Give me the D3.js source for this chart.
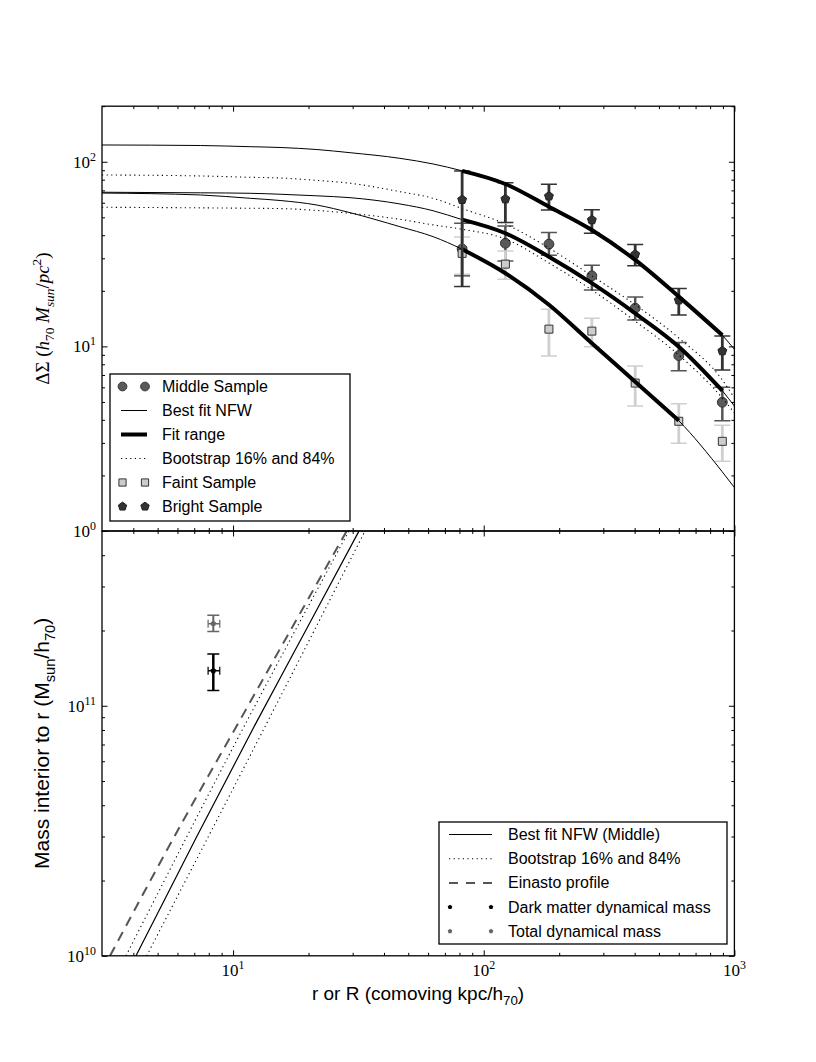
<!DOCTYPE html>
<html><head><meta charset="utf-8">
<script src="https://cdn.jsdelivr.net/npm/d3@7"></script>
<style>body{margin:0;background:#fff} svg{display:block}</style>
</head><body>
<svg id="c" width="816" height="1062"></svg>
<script>
// ---------------- data ----------------
const radii = [82, 122, 182, 270, 402, 600, 895];
const middleVal = [33.7, 36.2, 35.8, 24.1, 16.1, 8.91, 4.98];
const middleHi  = [46.5, 44.9, 41.4, 27.5, 18.5, 10.5, 6.0];
const middleLo  = [24.1, 29.0, 31.2, 20.2, 13.9, 7.39, 3.96];
const faintVal  = [31.9, 27.9, 12.4, 12.1, 6.33, 3.93, 3.06];
const faintHi   = [39.1, 32.9, 15.9, 14.2, 7.83, 4.89, 3.74];
const faintLo   = [24.6, 23.1, 8.87, 9.96, 4.75, 2.99, 2.39];
const brightVal = [62.3, 62.8, 65.1, 48.4, 31.5, 17.8, 9.44];
const brightHi  = [89.2, 77.0, 75.5, 55.0, 35.6, 20.6, 11.4];
const brightLo  = [21.1, 46.9, 54.8, 41.0, 27.3, 14.8, 7.45];

const curveR    = [3, 7.4, 11.7, 15.4, 21.6, 29.3, 46.3, 62.8, 82, 122, 182, 270, 402, 600, 895, 1000];
const brightNFW = [123.3, 122.5, 120.7, 119.5, 116.5, 112.0, 104.4, 97.3, 89.3, 75.8, 57.1, 42.7, 29.4, 18.6, 11.5, 9.64];
const middleNFW = [68.4, 67.9, 67.5, 66.7, 65.4, 63.9, 59.1, 54.3, 48.6, 41.0, 30.6, 22.0, 15.1, 9.96, 5.75, 4.75];
const faintNFW  = [67.7, 66.1, 63.4, 61.7, 58.3, 53.0, 44.5, 39.3, 33.6, 24.9, 16.8, 10.4, 6.44, 3.96, 2.09, 1.72];
const bootHi    = [84.8, 83.8, 82.4, 81.7, 79.3, 76.5, 68.9, 63.4, 55.8, 46.0, 34.1, 24.1, 16.8, 11.1, 6.58, 5.25];
const bootLo    = [56.7, 56.3, 56.0, 55.8, 54.5, 52.6, 48.8, 45.5, 43.1, 38.2, 28.3, 20.2, 13.7, 8.98, 5.25, 4.36];
const brightFit = [82, 895];
const middleFit = [82, 895];
const faintFit  = [82, 600];

// lower panel
const nfwMassR   = [4.10, 7.2, 12.4, 20.0, 31.8];
const nfwMassM   = [1e10, 3.03e10, 8.6e10, 2.10e11, 5e11];
const bootLoMassR = [3.74, 10.2, 29.0];
const bootLoMassM = [1e10, 7.08e10, 5e11];
const bootHiMassR = [4.52, 12.4, 33.6];
const bootHiMassM = [1e10, 7.08e10, 5e11];
const einastoR   = [3.23, 6.24, 10.66, 16.4, 28.4];
const einastoM   = [1e10, 3.39e10, 8.77e10, 1.89e11, 5e11];
const dynR = 8.34, dynRLo = 7.95, dynRHi = 8.85;
const totalMass = 2.13e11, totalHi = 2.30e11, totalLo = 1.98e11;
const dmMass = 1.38e11, dmHi = 1.61e11, dmLo = 1.15e11;

// ticks
const xMajor = [10, 100, 1000];
const xMajorExp = ['1', '2', '3'];
const xMinor = [4,5,6,7,8,9,20,30,40,50,60,70,80,90,200,300,400,500,600,700,800,900];
const topYMajor = [1, 10, 100];
const topYExp = ['0', '1', '2'];
const topYMinor = [2,3,4,5,6,7,8,9,20,30,40,50,60,70,80,90,200];
const botYMajor = [1e10, 1e11];
const botYExp = ['10', '11'];
const botYMinor = [2e10,3e10,4e10,5e10,6e10,7e10,8e10,9e10,2e11,3e11,4e11,5e11];

const topLegend = ['Middle Sample', 'Best fit NFW', 'Fit range', 'Bootstrap 16% and 84%', 'Faint Sample', 'Bright Sample'];
const botLegend = ['Best fit NFW (Middle)', 'Bootstrap 16% and 84%', 'Einasto profile', 'Dark matter dynamical mass', 'Total dynamical mass'];

// ---------------- layout ----------------
const L = 102, R = 734.4, T = 106.2, M = 531, B = 955.8;
const SANS = "'Liberation Sans', Arial, Helvetica, sans-serif";
const SERIF = "'Liberation Serif', 'DejaVu Serif', serif";
const DOT = '1.2,3.4';
const DASH = '10,7';
const svg = d3.select('#c');

const x = d3.scaleLog().domain([3, 1000]).range([L, R]);
const yTop = d3.scaleLog().domain([1, 200]).range([M, T]);
const yBot = d3.scaleLog().domain([1e10, 5e11]).range([B, M]);

const defs = svg.append('defs');
defs.append('clipPath').attr('id', 'clipTop').append('rect').attr('x', L).attr('y', T).attr('width', R - L).attr('height', M - T);
defs.append('clipPath').attr('id', 'clipBot').append('rect').attr('x', L).attr('y', M).attr('width', R - L).attr('height', B - M);

const pentagon = {
  draw(ctx, size) {
    const r = Math.sqrt(size / (2.5 * Math.sin(2 * Math.PI / 5)));
    for (let i = 0; i < 5; i++) {
      const a = -Math.PI / 2 + i * 2 * Math.PI / 5;
      const px = r * Math.cos(a), py = r * Math.sin(a);
      if (i === 0) ctx.moveTo(px, py); else ctx.lineTo(px, py);
    }
    ctx.closePath();
  }
};

function rich(textSel, parts, fs) {
  let shift = 0;
  parts.forEach(p => {
    const ts = textSel.append('tspan').text(p.t);
    let target = 0;
    if (p.sub) target = fs * 0.28;
    if (p.sup) target = -fs * 0.42;
    ts.attr('dy', target - shift);
    shift = target;
    if (p.sub || p.sup) ts.attr('font-size', fs * 0.7);
    if (p.it) ts.attr('font-style', 'italic');
  });
}

// ---------------- axes ----------------
function tickSet(axisGen, vals, size, tr) {
  svg.append('g').attr('transform', tr)
    .call(axisGen.tickValues(vals).tickSize(-size).tickFormat(''))
    .call(g => g.select('.domain').remove())
    .selectAll('line').attr('stroke', '#000').attr('stroke-width', 1);
}
function panelAxes(yS, yMaj, yMin, top, bottom) {
  [[xMajor, 5.5], [xMinor, 3]].forEach(([v, s]) => {
    tickSet(d3.axisBottom(x), v, s, `translate(0,${bottom})`);
    tickSet(d3.axisTop(x), v, s, `translate(0,${top})`);
  });
  [[yMaj, 5.5], [yMin, 3]].forEach(([v, s]) => {
    tickSet(d3.axisLeft(yS), v, s, `translate(${L},0)`);
    tickSet(d3.axisRight(yS), v, s, `translate(${R},0)`);
  });
}
panelAxes(yTop, topYMajor, topYMinor, T, M);
panelAxes(yBot, botYMajor, botYMinor, M, B);

// tick labels
topYMajor.forEach((v, i) => {
  const t = svg.append('text').attr('x', 96).attr('y', yTop(v) + 6).attr('text-anchor', 'end')
    .attr('font-family', SERIF).attr('font-size', 17);
  rich(t, [{t: '10'}, {t: topYExp[i], sup: true}], 17);
});
botYMajor.forEach((v, i) => {
  const t = svg.append('text').attr('x', 96).attr('y', yBot(v) + 6).attr('text-anchor', 'end')
    .attr('font-family', SERIF).attr('font-size', 17);
  rich(t, [{t: '10'}, {t: botYExp[i], sup: true}], 17);
});
xMajor.forEach((v, i) => {
  const t = svg.append('text').attr('x', x(v)).attr('y', 976).attr('text-anchor', 'middle')
    .attr('font-family', SERIF).attr('font-size', 17);
  rich(t, [{t: '10'}, {t: xMajorExp[i], sup: true}], 17);
});

// axis labels
{
  const t = svg.append('text').attr('x', 418).attr('y', 1000).attr('text-anchor', 'middle')
    .attr('font-family', SANS).attr('font-size', 19);
  rich(t, [{t: 'r or R (comoving kpc/h'}, {t: '70', sub: true}, {t: ')'}], 19);
  const t2 = svg.append('text').attr('transform', `translate(49,${(M + B) / 2}) rotate(-90)`).attr('text-anchor', 'middle')
    .attr('font-family', SANS).attr('font-size', 21);
  rich(t2, [{t: 'Mass interior to r (M'}, {t: 'sun', sub: true}, {t: '/h'}, {t: '70', sub: true}, {t: ')'}], 21);
  const t3 = svg.append('text').attr('transform', `translate(49,${(T + M) / 2}) rotate(-90)`).attr('text-anchor', 'middle')
    .attr('font-family', SERIF).attr('font-size', 19);
  rich(t3, [{t: 'ΔΣ ('}, {t: 'h', it: true}, {t: '70', sub: true}, {t: ' M', it: true}, {t: 'sun', sub: true, it: true},
            {t: '/', it: false}, {t: 'pc', it: true}, {t: '2', sup: true}, {t: ')'}], 19);
}

// ---------------- top panel ----------------
const gTop = svg.append('g').attr('clip-path', 'url(#clipTop)');
const lineTop = d3.line().x(d => x(d[0])).y(d => yTop(d[1])).curve(d3.curveMonotoneX);
function pairs(xs, ys) { return xs.map((v, i) => [v, ys[i]]); }
function inRange(pts, rng) { return pts.filter(p => p[0] >= rng[0] && p[0] <= rng[1]); }

function errBars(g, xs, vals, lo, hi, yS, color, lw, cap) {
  const eg = g.append('g');
  xs.forEach((r, i) => {
    eg.append('line').attr('x1', x(r)).attr('x2', x(r)).attr('y1', yS(lo[i])).attr('y2', yS(hi[i]))
      .attr('stroke', color).attr('stroke-width', lw);
    [lo[i], hi[i]].forEach(v => eg.append('line').attr('x1', x(r) - cap).attr('x2', x(r) + cap)
      .attr('y1', yS(v)).attr('y2', yS(v)).attr('stroke', color).attr('stroke-width', 1.5));
  });
}
function points(g, xs, vals, yS, type, size, fill, stroke) {
  g.append('g').selectAll('path').data(pairs(xs, vals)).join('path')
    .attr('transform', d => `translate(${x(d[0])},${yS(d[1])})`)
    .attr('d', d3.symbol(type, size)()).attr('fill', fill).attr('stroke', stroke).attr('stroke-width', 1);
}
function nfwLines(g, vals, fit) {
  const pts = pairs(curveR, vals);
  g.append('path').attr('d', lineTop(pts)).attr('fill', 'none').attr('stroke', '#000').attr('stroke-width', 1);
  g.append('path').attr('d', lineTop(inRange(pts, fit)))
    .attr('fill', 'none').attr('stroke', '#000').attr('stroke-width', 4).attr('stroke-linecap', 'butt');
}

// middle
errBars(gTop, radii, middleVal, middleLo, middleHi, yTop, '#555', 2.5, 8);
points(gTop, radii, middleVal, yTop, d3.symbolCircle, 76, '#5a5a5a', '#333');
nfwLines(gTop, middleNFW, middleFit);
[bootHi, bootLo].forEach(b => gTop.append('path').attr('d', lineTop(pairs(curveR, b)))
  .attr('fill', 'none').attr('stroke', '#000').attr('stroke-width', 1.1).attr('stroke-dasharray', DOT));
// faint
errBars(gTop, radii, faintVal, faintLo, faintHi, yTop, '#cfcfcf', 2.8, 8);
points(gTop, radii, faintVal, yTop, d3.symbolSquare, 64, '#cccccc', '#333');
nfwLines(gTop, faintNFW, faintFit);
// bright
errBars(gTop, radii, brightVal, brightLo, brightHi, yTop, '#333', 2.8, 8);
points(gTop, radii, brightVal, yTop, pentagon, 52, '#333', '#222');
nfwLines(gTop, brightNFW, brightFit);

// ---------------- bottom panel ----------------
const gBot = svg.append('g').attr('clip-path', 'url(#clipBot)');
const lineBot = d3.line().x(d => x(d[0])).y(d => yBot(d[1])).curve(d3.curveMonotoneX);
gBot.append('path').attr('d', lineBot(pairs(nfwMassR, nfwMassM))).attr('fill', 'none').attr('stroke', '#000').attr('stroke-width', 1.2);
[[bootLoMassR, bootLoMassM], [bootHiMassR, bootHiMassM]].forEach(([rs, ms]) =>
  gBot.append('path').attr('d', lineBot(pairs(rs, ms))).attr('fill', 'none').attr('stroke', '#000')
    .attr('stroke-width', 1.1).attr('stroke-dasharray', DOT));
gBot.append('path').attr('d', lineBot(pairs(einastoR, einastoM))).attr('fill', 'none').attr('stroke', '#555')
  .attr('stroke-width', 2).attr('stroke-dasharray', DASH);

function dynPoint(val, lo, hi, color, lw) {
  const g = gBot.append('g');
  const xc = x(dynR);
  g.append('line').attr('x1', xc).attr('x2', xc).attr('y1', yBot(lo)).attr('y2', yBot(hi)).attr('stroke', color).attr('stroke-width', lw);
  [lo, hi].forEach(v => g.append('line').attr('x1', xc - 6).attr('x2', xc + 6).attr('y1', yBot(v)).attr('y2', yBot(v)).attr('stroke', color).attr('stroke-width', 1.5));
  const yc = yBot(val);
  g.append('line').attr('x1', x(dynRLo)).attr('x2', x(dynRHi)).attr('y1', yc).attr('y2', yc).attr('stroke', color).attr('stroke-width', 1.5);
  [dynRLo, dynRHi].forEach(v => g.append('line').attr('x1', x(v)).attr('x2', x(v)).attr('y1', yc - 4).attr('y2', yc + 4).attr('stroke', color).attr('stroke-width', 1.2));
  g.append('path').attr('transform', `translate(${xc},${yc})`).attr('d', d3.symbol(pentagon, 22)()).attr('fill', color);
}
dynPoint(totalMass, totalLo, totalHi, '#666', 2);
dynPoint(dmMass, dmLo, dmHi, '#000', 2.5);

// frames
[[T, M], [M, B]].forEach(([a, b]) => svg.append('rect').attr('x', L).attr('y', a).attr('width', R - L).attr('height', b - a)
  .attr('fill', 'none').attr('stroke', '#000').attr('stroke-width', 1.3));

// ---------------- legends ----------------
function legendBox(x0, y0, x1, y1) {
  svg.append('rect').attr('x', x0).attr('y', y0).attr('width', x1 - x0).attr('height', y1 - y0)
    .attr('fill', '#fff').attr('stroke', '#000').attr('stroke-width', 1.3);
}
function legText(xp, yp, s) {
  svg.append('text').attr('x', xp).attr('y', yp + 5.5).attr('font-family', SANS).attr('font-size', 16).attr('fill', '#000').text(s);
}
function legLine(x0, x1, yp, stroke, w, dash) {
  const l = svg.append('line').attr('x1', x0).attr('x2', x1).attr('y1', yp).attr('y2', yp).attr('stroke', stroke).attr('stroke-width', w);
  if (dash) l.attr('stroke-dasharray', dash);
}
function legMarks(xa, xb, yp, type, size, fill, stroke) {
  [xa, xb].forEach(xp => svg.append('path').attr('transform', `translate(${xp},${yp})`)
    .attr('d', d3.symbol(type, size)()).attr('fill', fill).attr('stroke', stroke || 'none').attr('stroke-width', 1));
}
legendBox(110, 374, 350, 521);
topLegend.forEach((s, i) => {
  const yp = 386.5 + 24 * i;
  if (i === 0) legMarks(122.5, 145, yp, d3.symbolCircle, 60, '#5a5a5a', '#333');
  if (i === 1) legLine(121, 147, yp, '#000', 1);
  if (i === 2) legLine(121, 147, yp, '#000', 4);
  if (i === 3) legLine(121, 147, yp, '#000', 1.1, DOT);
  if (i === 4) legMarks(122.5, 145, yp, d3.symbolSquare, 52, '#cccccc', '#333');
  if (i === 5) legMarks(122.5, 145, yp, pentagon, 46, '#333', '#222');
  legText(162, yp, s);
});
legendBox(439, 822, 727, 944);
botLegend.forEach((s, i) => {
  const yp = 834.5 + 24.2 * i;
  if (i === 0) legLine(449, 492, yp, '#000', 1.2);
  if (i === 1) legLine(449, 492, yp, '#000', 1.1, DOT);
  if (i === 2) legLine(449, 492, yp, '#555', 2, '9,8');
  if (i === 3) legMarks(450, 491, yp, pentagon, 14, '#000');
  if (i === 4) legMarks(450, 491, yp, pentagon, 14, '#666');
  legText(508, yp, s);
});
</script>
</body></html>
